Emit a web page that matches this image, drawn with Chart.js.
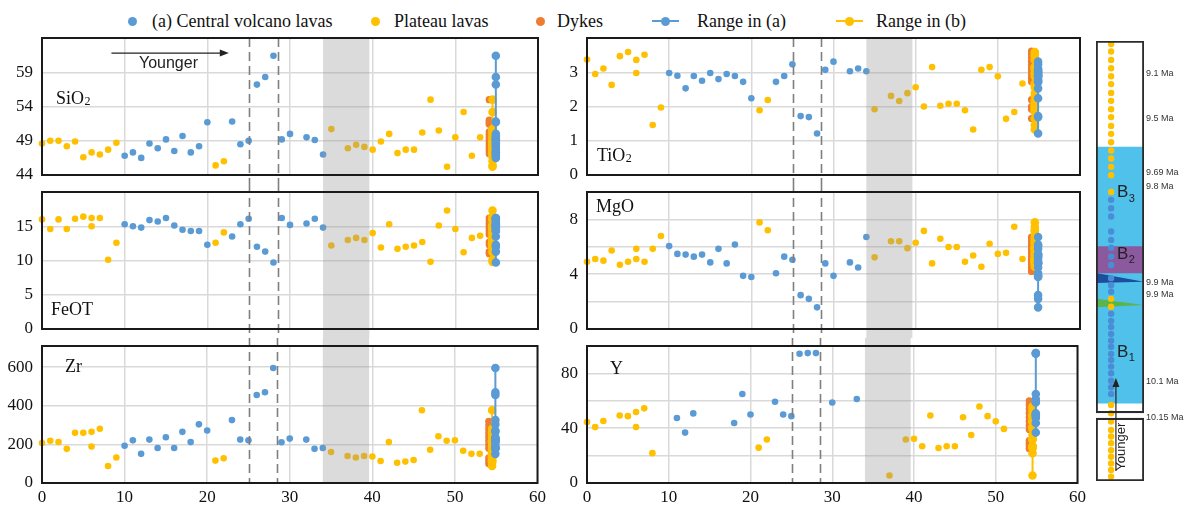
<!DOCTYPE html>
<html>
<head>
<meta charset="utf-8">
<title>Lava geochemistry through the section</title>
<script src="https://cdn.jsdelivr.net/npm/chart.js@4.4.1/dist/chart.umd.min.js"></script>
<style>
  html, body { margin: 0; padding: 0; background: #fff; }
  body { width: 1184px; height: 506px; position: relative; overflow: hidden; }
  canvas { position: absolute; }
  #legend { position: absolute; left: 0; top: 9px; width: 1184px; height: 24px; font: 18px "Liberation Serif", serif; color: #111; }
  #legend span { position: absolute; white-space: nowrap; }
  #legend .txt { top: 0; line-height: 24px; }
  #legend .dot { top: 7.5px; width: 9px; height: 9px; border-radius: 50%; }
  #legend .bar { top: 11px; height: 2px; }
</style>
</head>
<body>
<div id="legend">
  <span class="dot" style="left:127.5px;background:#5B9BD5"></span><span class="txt" style="left:152px">(a) Central volcano lavas</span>
  <span class="dot" style="left:370.5px;background:#FFC000"></span><span class="txt" style="left:394px">Plateau lavas</span>
  <span class="dot" style="left:535.5px;background:#ED7D31"></span><span class="txt" style="left:557px">Dykes</span>
  <span class="bar" style="left:652px;width:27px;background:#5B9BD5"></span><span class="dot" style="left:661px;background:#5B9BD5"></span><span class="txt" style="left:697px">Range in (a)</span>
  <span class="bar" style="left:836px;width:27px;background:#FFC000"></span><span class="dot" style="left:845px;background:#FFC000"></span><span class="txt" style="left:876px">Range in (b)</span>
</div>

<canvas id="p1" width="550" height="154" style="left:0;top:30px"></canvas>
<canvas id="p2" width="550" height="154" style="left:0;top:184px"></canvas>
<canvas id="p3" width="550" height="168" style="left:0;top:338px"></canvas>
<canvas id="p4" width="545" height="154" style="left:545px;top:30px"></canvas>
<canvas id="p5" width="545" height="154" style="left:545px;top:184px"></canvas>
<canvas id="p6" width="545" height="168" style="left:545px;top:338px"></canvas>
<canvas id="col" width="99" height="506" style="left:1085px;top:0"></canvas>

<script>
// sample positions along the section (a = central volcano, b = plateau)
const sampleA = [10, 11, 12, 13, 14, 15, 16, 17, 18, 19, 20, 23, 24, 25, 26, 27, 28, 29, 30, 32, 33, 34];
const sampleB = [0, 1, 2, 3, 4, 5, 6, 6, 7, 8, 9, 21, 22, 35, 37, 38, 39, 40, 41, 42, 43, 44, 45, 46, 47, 48, 49, 50, 51, 52, 53];

// where the summary columns sit
const dykeX = 54.1, rangeBX = 54.5, rangeAX = 54.9;
const dashedAt = [25.1, 28.5];
const bandFrom = 34.0, bandTo = 39.6;

// SiO2
const sio2A = [46.8, 47.3, 46.5, 48.6, 47.9, 49.2, 47.5, 49.7, 47.3, 48.2, 51.7, 51.8, 48.5, 49.0, 57.2, 58.3, 61.4, 49.2, 50.0, 49.5, 49.1, 47.0];
const sio2B = [48.6, 49.0, 49.0, 48.2, 48.9, 46.6, 47.3, null, 47.0, 47.7, 48.7, 45.4, 46.0, 50.7, 47.9, 48.4, 48.1, 47.7, 48.9, 50.0, 47.2, 47.7, 47.7, 50.2, 55.0, 50.5, 45.2, 49.5, 53.2, 46.8, 49.5];
const sio2Dykes = [55.0, 52.0, 51.7, 51.4, 50.3, 49.9, 49.5, 49.1, 48.7, 48.3, 47.9, 47.5, 47.1];

// FeOT
const feoA = [15.3, 15.0, 14.8, 15.9, 15.7, 16.2, 15.1, 14.5, 14.3, 14.3, 12.3, 13.5, 15.3, 16.1, 12.0, 11.3, 9.7, 16.2, 15.2, 15.4, 16.1, 14.8];
const feoB = [16.0, 14.6, 16.0, 14.6, 16.1, 16.4, 16.2, 15.0, 16.2, 10.1, 12.6, 12.6, 14.1, 12.2, 13.0, 13.3, 13.0, 14.0, 11.9, 15.3, 11.7, 12.0, 12.2, 12.7, 9.8, 15.1, 17.3, 14.6, 11.2, 13.3, 13.6];
const feoDykes = [16.2, 15.8, 15.4, 15.0, 14.6, 14.2, 13.8, 12.7, 12.3, 11.3, 11.0];

// Zr
const zrA = [193, 221, 151, 225, 181, 237, 181, 265, 212, 304, 272, 326, 225, 221, 456, 470, 596, 211, 230, 225, 177, 181];
const zrB = [207, 219, 212, 177, 260, 260, 265, 189, 281, 88, 132, 116, 128, 161, 140, 132, 140, 137, 114, 212, 105, 111, 119, 377, 172, 242, 219, 221, 167, 151, 151];
const zrDykes = [320, 300, 280, 260, 240, 220, 200, 180, 130, 115, 100];

// TiO2
const tio2A = [2.98, 2.90, 2.53, 2.89, 2.75, 2.98, 2.80, 2.95, 2.89, 2.72, 2.24, 2.72, 2.89, 3.23, 1.72, 1.69, 1.21, 3.07, 3.31, 3.03, 3.11, 3.03];
const tio2B = [3.37, 2.95, 3.11, 2.63, 3.47, 3.59, 3.36, 2.98, 3.51, 1.46, 1.97, 1.89, 2.19, 1.92, 2.31, 2.16, 2.39, 2.56, 2.00, 3.15, 2.02, 2.08, 2.08, 1.89, 1.33, 3.07, 3.15, 2.88, 1.64, 1.84, 2.67];
const tio2Dykes = [3.62, 3.52, 3.42, 3.32, 3.22, 3.12, 3.02, 2.92, 2.82, 2.72, 2.2, 2.0, 1.92, 1.65];

// MgO
const mgoA = [6.05, 5.48, 5.43, 5.28, 5.43, 4.86, 5.85, 4.79, 6.17, 3.88, 3.80, 4.07, 5.28, 5.06, 2.47, 2.20, 1.58, 4.79, 3.88, 4.86, 4.49, 6.72];
const mgoB = [4.91, 5.11, 4.99, 5.73, 4.69, 4.91, 5.85, 5.11, 4.91, 5.85, 6.79, 7.78, 7.21, 5.23, 6.40, 6.40, 5.90, 6.30, 7.16, 4.79, 6.59, 5.98, 5.98, 4.91, 5.36, 4.54, 6.22, 5.48, 5.56, 7.46, 5.11];
const mgoDykes = [6.7, 6.5, 6.3, 6.1, 5.9, 5.7, 5.5, 5.3, 5.1, 4.9, 4.7, 4.5, 4.3, 4.2];

// Y
const yA = [null, 47.5, 36.8, 50.8, null, null, null, null, 43.8, 65.0, 50.0, 59.3, 50.0, 48.8, 94.3, 94.8, 94.8, null, 58.8, null, 61.3, null];
const yB = [44.5, 40.8, 45.3, null, 49.3, 48.8, 51.8, 40.8, 54.5, 21.8, null, 25.8, 31.8, null, 5.5, null, 31.8, 32.3, 26.8, 49.3, 25.5, 26.8, 26.8, 48.0, 35.0, 55.8, 48.8, 45.0, 39.5, null, null];
const yDykes = [60, 57, 54, 51, 48, 45, 42, 39, 31, 29, 27, 25];

// stratigraphic column (0 = top of column, 100 = base)
const unitNames = ['B3', 'B2', 'B1'];
const unitTop = [24.1, 46.6, 52.7];
const unitBase = [46.6, 52.7, 82.3];
const boxTop = [0, 85.7];
const boxBase = [84.5, 100];
const wedgeTop = [52.7, 58.6];
const wedgeTip = [54.7, 60.0];
const wedgeBase = [55.0, 60.5];
const ageLabels = ['9.1 Ma', '9.5 Ma', '9.69 Ma', '9.8 Ma', '9.9 Ma', '9.9 Ma', '10.1 Ma', '10.15 Ma'];
const agePos = [7.3, 17.7, 30.0, 33.0, 55.0, 57.7, 77.5, 85.5];
const colDotPos = [0.7, 2.4, 4.3, 6.2, 8.0, 9.8, 11.8, 13.6, 15.5, 17.3, 19.3, 21.1, 23.0, 24.9, 26.7, 28.6, 30.5, 34.3,
  36.1, 38.0, 39.9, 43.3, 45.2, 47.0, 49.0, 50.9, 53.9, 55.5, 57.0,
  58.6, 60.4,
  62.0, 63.6, 65.0, 66.6, 68.1, 69.5, 71.1, 72.5, 74.0, 75.5, 77.2, 78.7, 80.2,
  82.7, 84.6, 86.5, 88.4, 89.9, 91.4, 93.0, 94.5, 96.0, 97.5, 99.0];
const colDotGroup = ['b','b','b','b','b','b','b','b','b','b','b','b','b','b','b','b','b','b',
  'a','a','a','a','a','a','a','a','a','a','a',
  'b','b',
  'a','a','a','a','a','a','a','a','a','a','a','a','a',
  'b','b','b','b','b','b','b','b','b','b','b'];

const BLUE = '#5B9BD5', YELLOW = '#FFC000', ORANGE = '#ED7D31', GRID = '#d9d9d9';
const unitColors = ['#4FC1EA', '#8B5A9E', '#4FC1EA'];
const wedgeColors = ['#1D4E9E', '#5BB548'];
const colDotX = 0.13;
const SERIF = '"Liberation Serif", "Times New Roman", serif';
const SANS = '"Liberation Sans", Arial, sans-serif';

Chart.defaults.elements.point.borderWidth = 0;
Chart.defaults.elements.point.hoverRadius = 0;

const panelDecor = {
  id: 'panelDecor',
  afterDatasetsDraw(chart, args, o) {
    const { ctx, chartArea: a, scales } = chart;
    const x = scales.x, y = scales.y;
    const top = o.first ? a.top : 0;
    const bot = o.last ? a.bottom : chart.height;
    ctx.save();
    // grey time band, over the points
    const b1 = x.getPixelForValue(bandFrom), b2 = x.getPixelForValue(bandTo);
    ctx.fillStyle = 'rgba(150,150,150,0.34)';
    ctx.fillRect(b1, top, b2 - b1, bot - top);
    // dashed markers
    ctx.strokeStyle = '#7f7f7f';
    ctx.lineWidth = 1.6;
    ctx.setLineDash([9, 5]);
    dashedAt.forEach(v => {
      const px = Math.round(x.getPixelForValue(v)) + 0.5;
      ctx.beginPath(); ctx.moveTo(px, top); ctx.lineTo(px, bot); ctx.stroke();
    });
    ctx.setLineDash([]);
    // element name
    ctx.fillStyle = '#111';
    ctx.textBaseline = 'middle';
    ctx.textAlign = 'left';
    ctx.font = '18px ' + SERIF;
    const lx = a.left + o.lx, ly = a.top + o.ly;
    ctx.fillText(o.name, lx, ly);
    if (o.sub) {
      const w = ctx.measureText(o.name).width;
      ctx.font = '12px ' + SERIF;
      ctx.fillText(o.sub, lx + w + 0.5, ly + 3);
    }
    // "Younger" arrow in the first panel
    if (o.arrow) {
      const x1 = x.getPixelForValue(8.4), x2 = x.getPixelForValue(22.6), ay = y.getPixelForValue(61.8);
      ctx.strokeStyle = '#222'; ctx.lineWidth = 1.2;
      ctx.beginPath(); ctx.moveTo(x1, ay); ctx.lineTo(x2 - 6, ay); ctx.stroke();
      ctx.fillStyle = '#222';
      ctx.beginPath(); ctx.moveTo(x2, ay); ctx.lineTo(x2 - 9, ay - 3.5); ctx.lineTo(x2 - 9, ay + 3.5); ctx.closePath(); ctx.fill();
      ctx.font = '16px ' + SANS;
      ctx.textAlign = 'center';
      ctx.fillText('Younger', x.getPixelForValue(15.3), y.getPixelForValue(60.3));
    }
    // frame
    ctx.strokeStyle = '#1a1a1a';
    ctx.lineWidth = 2;
    ctx.strokeRect(a.left, a.top, a.width, a.height);
    ctx.restore();
  }
};

function buildPanel(canvasId, p) {
  const pts = (xs, vs) => xs.map((x, i) => ({ x, y: vs[i] })).filter(q => q.y !== null);
  const col = (x, vs) => vs.filter(v => v !== null).slice().sort((m, n) => m - n).map(v => ({ x, y: v }));
  return new Chart(document.getElementById(canvasId), {
    type: 'scatter',
    data: {
      datasets: [
        { label: 'Range in (a)', data: col(rangeAX, p.a), showLine: true, borderColor: BLUE, backgroundColor: BLUE, borderWidth: 2, pointRadius: 3.3, order: 1, clip: false },
        { label: 'Range in (b)', data: col(rangeBX, p.b), showLine: true, borderColor: YELLOW, backgroundColor: YELLOW, borderWidth: 2, pointRadius: 3.3, order: 2, clip: false },
        { label: 'Dykes', data: col(dykeX, p.d), backgroundColor: ORANGE, pointRadius: 3.6, order: 3, clip: false },
        { label: '(a) Central volcano lavas', data: pts(sampleA, p.a), backgroundColor: BLUE, pointRadius: 3.3, order: 4, clip: false },
        { label: 'Plateau lavas', data: pts(sampleB, p.b), backgroundColor: YELLOW, pointRadius: 3.3, order: 5, clip: false }
      ]
    },
    options: {
      responsive: false,
      animation: false,
      events: [],
      layout: { padding: { left: 0, right: p.right, top: 8, bottom: p.last ? 0 : 9 } },
      plugins: {
        legend: { display: false },
        tooltip: { enabled: false },
        panelDecor: p
      },
      scales: {
        x: {
          type: 'linear', min: 0, max: 60,
          border: { display: false },
          grid: { color: GRID, lineWidth: 1.5, drawTicks: false },
          ticks: { display: !!p.last, stepSize: 10, padding: 4, color: '#111', font: { family: SERIF, size: 17 } },
          afterFit: s => { s.height = p.last ? 23 : 0; }
        },
        y: {
          type: 'linear', min: p.min, max: p.max,
          border: { display: false },
          grid: { color: GRID, lineWidth: 1.5, drawTicks: false },
          ticks: {
            stepSize: p.step, includeBounds: false, autoSkip: false, padding: 9, color: '#111',
            font: { family: SERIF, size: 17 },
            callback: v => p.shown.includes(v) ? v : ''
          },
          afterFit: s => { s.width = 42; s.paddingTop = 0; s.paddingBottom = 0; }
        }
      }
    },
    plugins: [panelDecor]
  });
}

buildPanel('p1', { a: sio2A, b: sio2B, d: sio2Dykes, min: 44, max: 64, step: 5, shown: [44, 49, 54, 59], name: 'SiO', sub: '2', lx: 14, ly: 61, first: true, arrow: true, right: 12 });
buildPanel('p2', { a: feoA, b: feoB, d: feoDykes, min: 0, max: 20, step: 5, shown: [0, 5, 10, 15], name: 'FeOT', lx: 9, ly: 118, right: 12 });
buildPanel('p3', { a: zrA, b: zrB, d: zrDykes, min: 0, max: 710, step: 200, shown: [0, 200, 400, 600], name: 'Zr', lx: 23, ly: 21, last: true, right: 12 });
buildPanel('p4', { a: tio2A, b: tio2B, d: tio2Dykes, min: 0, max: 4, step: 1, shown: [0, 1, 2, 3], name: 'TiO', sub: '2', lx: 10, ly: 118, first: true, right: 10 });
buildPanel('p5', { a: mgoA, b: mgoB, d: mgoDykes, min: 0, max: 10, step: 2, shown: [0, 4, 8], name: 'MgO', lx: 9, ly: 15, right: 10 });
buildPanel('p6', { a: yA, b: yB, d: yDykes, min: 0, max: 100, step: 20, shown: [0, 40, 80], name: 'Y', lx: 23, ly: 23, last: true, right: 10 });

// stratigraphic column
const columnDecor = {
  id: 'columnDecor',
  beforeDatasetDraw(chart, args) {
    if (args.meta.type !== 'scatter') return;
    const { ctx, chartArea: a, scales: { y } } = chart;
    ctx.save();
    wedgeTop.forEach((t, i) => {
      ctx.beginPath();
      ctx.moveTo(a.left, y.getPixelForValue(t));
      ctx.lineTo(a.right, y.getPixelForValue(wedgeTip[i]));
      ctx.lineTo(a.left, y.getPixelForValue(wedgeBase[i]));
      ctx.closePath();
      ctx.fillStyle = wedgeColors[i];
      ctx.fill();
    });
    ctx.restore();
  },
  afterDatasetsDraw(chart) {
    const { ctx, scales: { y, xd } } = chart;
    ctx.save();
    ctx.fillStyle = '#222';
    ctx.textBaseline = 'middle';
    ctx.textAlign = 'left';
    const labelPos = [34.5, 48.4, 70.7];
    unitNames.forEach((n, i) => {
      const px = xd.getPixelForValue(0.37), py = y.getPixelForValue(labelPos[i]);
      ctx.font = '17px ' + SANS;
      ctx.fillText(n[0], px, py);
      const w = ctx.measureText(n[0]).width;
      ctx.font = '11px ' + SANS;
      ctx.fillText(n.slice(1), px + w + 0.5, py + 6);
    });
    // arrow pointing up-section
    const ax = xd.getPixelForValue(0.33), y1 = y.getPixelForValue(97.7), y2 = y.getPixelForValue(76.6);
    ctx.strokeStyle = '#222'; ctx.lineWidth = 1.2;
    ctx.beginPath(); ctx.moveTo(ax, y1); ctx.lineTo(ax, y2 + 6); ctx.stroke();
    ctx.beginPath(); ctx.moveTo(ax, y2); ctx.lineTo(ax - 3.5, y2 + 9); ctx.lineTo(ax + 3.5, y2 + 9); ctx.closePath(); ctx.fill();
    ctx.translate(xd.getPixelForValue(0.54), y.getPixelForValue(92.2));
    ctx.rotate(-Math.PI / 2);
    ctx.textAlign = 'center';
    ctx.font = '13px ' + SANS;
    ctx.fillText('Younger', 0, 0);
    ctx.restore();
  }
};

new Chart(document.getElementById('col'), {
  type: 'bar',
  data: {
    labels: ['section'],
    datasets: [
      ...boxTop.map((t, i) => ({
        label: 'frame', data: [[t, boxBase[i]]], backgroundColor: 'rgba(0,0,0,0)', borderColor: '#2b2b2b',
        borderWidth: 1.5, borderSkipped: false, grouped: false, barPercentage: 1, categoryPercentage: 1, order: 0
      })),
      {
        type: 'scatter', xAxisID: 'xd', label: 'samples',
        data: colDotPos.map(v => ({ x: colDotX, y: v })),
        backgroundColor: colDotGroup.map(g => g === 'a' ? '#4A8DD6' : YELLOW),
        pointRadius: 3.2, order: 1, clip: false
      },
      ...unitNames.map((n, i) => ({
        label: n, data: [[unitTop[i], unitBase[i]]], backgroundColor: unitColors[i], borderWidth: 0,
        grouped: false, barPercentage: 1, categoryPercentage: 1, order: 2
      }))
    ]
  },
  options: {
    responsive: false,
    animation: false,
    events: [],
    layout: { padding: { left: 11, right: 0, top: 41, bottom: 25 } },
    plugins: { legend: { display: false }, tooltip: { enabled: false } },
    scales: {
      x: { type: 'category', display: false },
      xd: { type: 'linear', axis: 'x', min: 0, max: 1, display: false },
      y: {
        type: 'linear', position: 'right', reverse: true, min: 0, max: 100,
        grid: { display: false, drawTicks: false }, border: { display: false },
        ticks: { autoSkip: false, padding: 2, color: '#333', font: { family: SANS, size: 9 }, callback: (v, i) => ageLabels[i] },
        afterBuildTicks: s => { s.ticks = agePos.map(v => ({ value: v })); },
        afterFit: s => { s.width = 40; s.paddingTop = 0; s.paddingBottom = 0; }
      }
    }
  },
  plugins: [columnDecor]
});
</script>
</body>
</html>
